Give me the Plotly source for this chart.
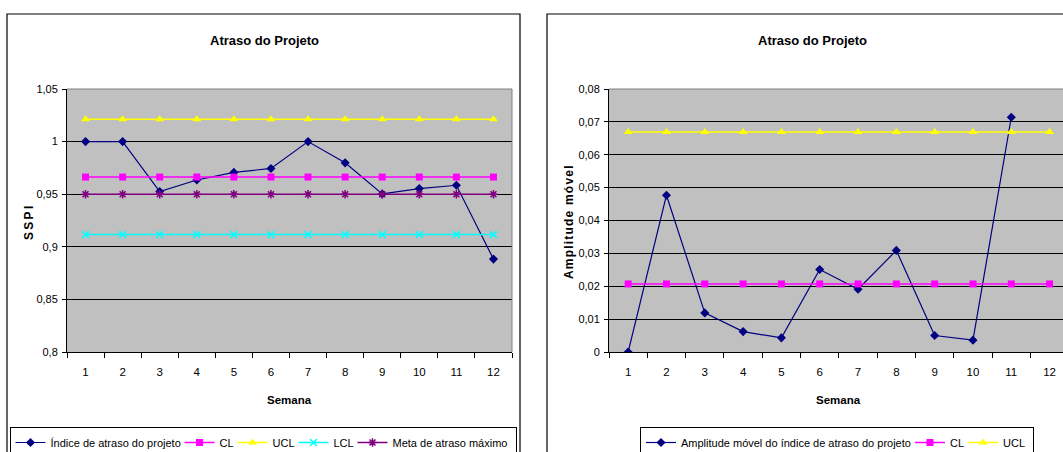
import plotly.graph_objects as go

# ---------------- data ----------------
semanas = ["1", "2", "3", "4", "5", "6", "7", "8", "9", "10", "11", "12"]
indice_atraso = [1.000, 1.000, 0.9525, 0.9635, 0.9707, 0.9745, 1.000, 0.9798, 0.9503, 0.9553, 0.9585, 0.8883]
cl_sspi = [0.9663, 0.9663, 0.9663, 0.9663, 0.9663, 0.9663, 0.9663, 0.9663, 0.9663, 0.9663, 0.9663, 0.9663]
ucl_sspi = [1.0213, 1.0213, 1.0213, 1.0213, 1.0213, 1.0213, 1.0213, 1.0213, 1.0213, 1.0213, 1.0213, 1.0213]
lcl_sspi = [0.9116, 0.9116, 0.9116, 0.9116, 0.9116, 0.9116, 0.9116, 0.9116, 0.9116, 0.9116, 0.9116, 0.9116]
meta_atraso = [0.95, 0.95, 0.95, 0.95, 0.95, 0.95, 0.95, 0.95, 0.95, 0.95, 0.95, 0.95]

semanas_mr = ["1", "2", "3", "4", "5", "6", "7", "8", "9", "10", "11"]
amplitude_movel = [0.0, 0.0477, 0.0119, 0.0062, 0.0043, 0.0251, 0.0191, 0.0309, 0.0050, 0.0036, 0.0714]
cl_mr = [0.0207, 0.0207, 0.0207, 0.0207, 0.0207, 0.0207, 0.0207, 0.0207, 0.0207, 0.0207, 0.0207, 0.0207]
ucl_mr = [0.0669, 0.0669, 0.0669, 0.0669, 0.0669, 0.0669, 0.0669, 0.0669, 0.0669, 0.0669, 0.0669, 0.0669]

sspi_ticks = [0.8, 0.85, 0.9, 0.95, 1.0, 1.05]
sspi_ticktext = ["0,8", "0,85", "0,9", "0,95", "1", "1,05"]
mr_ticks = [0, 0.01, 0.02, 0.03, 0.04, 0.05, 0.06, 0.07, 0.08]
mr_ticktext = ["0", "0,01", "0,02", "0,03", "0,04", "0,05", "0,06", "0,07", "0,08"]

# ---------------- figure ----------------
W, H = 1063, 452
FONT = "Liberation Sans, Arial, sans-serif"


def px(x):
    return x / W


def py(y):
    return 1 - y / H


NAVY = "#000080"
MAG = "#FF00FF"
YEL = "#FFFF00"
CYAN = "#00FFFF"
PURP = "#800080"

fig = go.Figure()

# left chart traces
fig.add_trace(go.Scatter(x=semanas, y=indice_atraso, name="Índice de atraso do projeto", mode="lines+markers",
                         line=dict(color=NAVY, width=1.2), marker=dict(symbol="diamond", size=7, color=NAVY),
                         xaxis="x", yaxis="y", legend="legend", legendwidth=124))
fig.add_trace(go.Scatter(x=semanas, y=cl_sspi, name="CL", mode="lines+markers",
                         line=dict(color=MAG, width=1.5), marker=dict(symbol="square", size=7, color=MAG),
                         xaxis="x", yaxis="y", legend="legend", legendwidth=8))
fig.add_trace(go.Scatter(x=semanas, y=ucl_sspi, name="UCL", mode="lines+markers",
                         line=dict(color=YEL, width=1.5), marker=dict(symbol="triangle-up", size=8, color=YEL),
                         xaxis="x", yaxis="y", legend="legend", legendwidth=16))
fig.add_trace(go.Scatter(x=semanas, y=lcl_sspi, name="LCL", mode="lines+markers",
                         line=dict(color=CYAN, width=1.5),
                         marker=dict(symbol="x-thin-open", size=7, color=CYAN, line=dict(color=CYAN, width=1.5)),
                         xaxis="x", yaxis="y", legend="legend", legendwidth=14))
fig.add_trace(go.Scatter(x=semanas, y=meta_atraso, name="Meta de atraso máximo", mode="lines+markers",
                         line=dict(color=PURP, width=1.5),
                         marker=dict(symbol="asterisk-open", size=7, color=PURP, line=dict(color=PURP, width=1.5)),
                         xaxis="x", yaxis="y", legend="legend", legendwidth=118))

# right chart traces
fig.add_trace(go.Scatter(x=semanas_mr, y=amplitude_movel, name="Amplitude móvel do índice de atraso do projeto",
                         mode="lines+markers", line=dict(color=NAVY, width=1.2),
                         marker=dict(symbol="diamond", size=7, color=NAVY),
                         xaxis="x2", yaxis="y2", legend="legend2", legendwidth=224))
fig.add_trace(go.Scatter(x=semanas, y=cl_mr, name="CL", mode="lines+markers",
                         line=dict(color=MAG, width=1.5), marker=dict(symbol="square", size=7, color=MAG),
                         xaxis="x2", yaxis="y2", legend="legend2", legendwidth=8))
fig.add_trace(go.Scatter(x=semanas, y=ucl_mr, name="UCL", mode="lines+markers",
                         line=dict(color=YEL, width=1.5), marker=dict(symbol="triangle-up", size=8, color=YEL),
                         xaxis="x2", yaxis="y2", legend="legend2", legendwidth=25))

xcommon = dict(type="category", tickson="boundaries", ticks="outside", ticklen=5, tickcolor="black",
               showline=True, linecolor="black", linewidth=1, showgrid=False, zeroline=False,
               tickfont=dict(family=FONT, size=11.5, color="black"), ticklabelstandoff=9)
ycommon = dict(ticks="outside", ticklen=4, tickcolor="black", showline=True, linecolor="black", linewidth=1,
               showgrid=True, gridcolor="black", gridwidth=1, zeroline=False,
               tickfont=dict(family=FONT, size=11, color="black"), ticklabelstandoff=2)

dom_y = [py(352), py(89)]
fig.update_layout(
    width=W, height=H, margin=dict(l=0, r=0, t=0, b=0, autoexpand=False),
    paper_bgcolor="white", plot_bgcolor="#C0C0C0",
    showlegend=True,
    xaxis=dict(domain=[px(67), px(512)], anchor="y", categoryorder="array", categoryarray=semanas,
               range=[-0.5, 11.5], **xcommon),
    yaxis=dict(domain=dom_y, anchor="x", range=[0.8, 1.05], tickvals=sspi_ticks, ticktext=sspi_ticktext,
               **ycommon),
    xaxis2=dict(domain=[px(609), 1.0], anchor="y2", categoryorder="array", categoryarray=semanas,
                range=[-0.5, 11.35], **xcommon),
    yaxis2=dict(domain=dom_y, anchor="x2", range=[0, 0.08], tickvals=mr_ticks, ticktext=mr_ticktext,
                **ycommon),
    legend=dict(orientation="h", x=px(263), xanchor="center", y=py(427), yanchor="top",
                bgcolor="white", bordercolor="black", borderwidth=1,
                font=dict(family=FONT, size=11, color="black"), itemwidth=30),
    legend2=dict(orientation="h", x=px(837), xanchor="center", y=py(427), yanchor="top",
                 bgcolor="white", bordercolor="black", borderwidth=1,
                 font=dict(family=FONT, size=11, color="black"), itemwidth=30),
    hovermode=False,
)

annotations = [
    dict(text="<b>Atraso do Projeto</b>", x=px(264), y=py(40), font=dict(family=FONT, size=13, color="black")),
    dict(text="<b>Atraso do Projeto</b>", x=px(812), y=py(40), font=dict(family=FONT, size=13, color="black")),
    dict(text="<b>Semana</b>", x=px(289), y=py(400), font=dict(family=FONT, size=11.5, color="black")),
    dict(text="<b>Semana</b>", x=px(838), y=py(400), font=dict(family=FONT, size=11.5, color="black")),
    dict(text='<b><span style="letter-spacing:2.3px">SSPI</span></b>', x=px(29), y=py(222), textangle=-90,
         font=dict(family=FONT, size=12, color="black")),
    dict(text='<b><span style="letter-spacing:1.2px">Amplitude móvel</span></b>', x=px(569), y=py(222),
         textangle=-90, font=dict(family=FONT, size=12, color="black")),
]
for a in annotations:
    a.update(xref="paper", yref="paper", showarrow=False, xanchor="center", yanchor="middle")
fig.update_layout(annotations=annotations)

shapes = [
    # chart area borders
    dict(type="rect", xref="paper", yref="paper", x0=px(7), x1=px(520), y0=-0.2, y1=py(14),
         line=dict(color="black", width=1.2), layer="below"),
    dict(type="rect", xref="paper", yref="paper", x0=px(547), x1=1.2, y0=-0.2, y1=py(14),
         line=dict(color="black", width=1.2), layer="below"),
    # plot area gray top/right edges
    dict(type="line", xref="x domain", yref="y domain", x0=0, x1=1, y0=1, y1=1, line=dict(color="#808080", width=1)),
    dict(type="line", xref="x domain", yref="y domain", x0=1, x1=1, y0=0, y1=1, line=dict(color="#808080", width=1)),
    dict(type="line", xref="x2 domain", yref="y2 domain", x0=0, x1=1, y0=1, y1=1, line=dict(color="#808080", width=1)),
]
fig.update_layout(shapes=shapes)

fig.write_html("out.html")
